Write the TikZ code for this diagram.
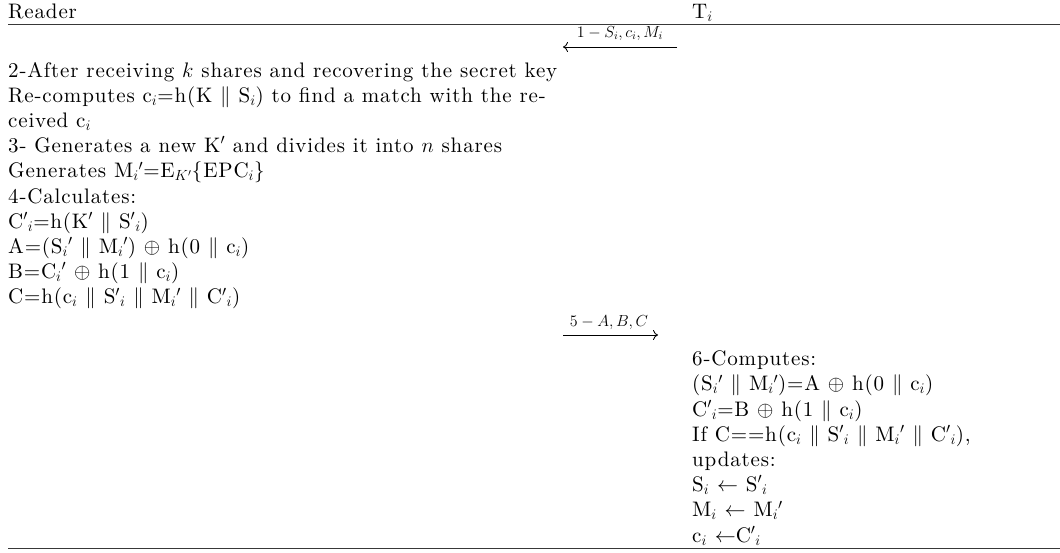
\RequirePackage{fix-cm}
\documentclass[tikz,border=0pt]{standalone}
\usepackage{fontspec}
\setmainfont{lmroman10-regular.otf}[ItalicFont=lmroman10-italic.otf, LetterSpace=4]
\usetikzlibrary{arrows.meta}
\begin{document}
\begin{tikzpicture}[x=1pt,y=-1pt,
  txt/.style={anchor=base west, inner sep=0pt, font=\fontsize{21}{25}\selectfont},
  rulel/.style={line width=1.6pt, black!78},
  msg/.style={line width=0.85pt, -{To[length=5pt,width=10pt]}},
  lbl/.style={anchor=base, inner sep=0pt, font=\fontsize{16}{18}\selectfont}]
\useasboundingbox (0,0) rectangle (1060,552);
% header
\node[txt] (hr) at (8,18) {Reader};
\node[txt] (ht) at (692,18) {T$_i$};
\draw[rulel] (8,24.5) -- (1060,24.5);
% message 1
\coordinate (m1a) at (677,47);
\coordinate (m1b) at (563,47);
\draw[msg] (m1a) -- (m1b);
\node[lbl] (m1l) at (620,37) {$1-S_i,c_i,M_i$};
% left column
\node[txt] (l1) at (8,77) {2-After receiving $k$ shares and recovering the secret key};
\node[txt] (l2) at (8,102.2) {Re-computes c$_i$=h(K $\|$ S$_i$) to find a match with the re-};
\node[txt] (l3) at (8,127.4) {ceived c$_i$};
\node[txt] (l4) at (8,152.6) {3- Generates a new K$'$ and divides it into $n$ shares};
\node[txt] (l5) at (8,177.8) {Generates M$_i{}'$=E$_{K'}$\{EPC$_i$\}};
\node[txt] (l6) at (8,203) {4-Calculates:};
\node[txt] (l7) at (8,228.2) {C$'{}_i$=h(K$'$ $\|$ S$'{}_i$)};
\node[txt] (l8) at (8,253.4) {A=(S$_i{}'$ $\|$ M$_i{}'$) $\oplus$ h(0 $\|$ c$_i$)};
\node[txt] (l9) at (8,278.6) {B=C$_i{}'$ $\oplus$ h(1 $\|$ c$_i$)};
\node[txt] (l10) at (8,303.8) {C=h(c$_i$ $\|$ S$'{}_i$ $\|$ M$_i{}'$ $\|$ C$'{}_i$)};
% message 2
\coordinate (m2a) at (563,335);
\coordinate (m2b) at (658,335);
\draw[msg] (m2a) -- (m2b);
\node[lbl] (m2l) at (609,326) {$5-A,B,C$};
% right column
\node[txt] (r1) at (692,365.6) {6-Computes:};
\node[txt] (r2) at (692,390.8) {(S$_i{}'$ $\|$ M$_i{}'$)=A $\oplus$ h(0 $\|$ c$_i$)};
\node[txt] (r3) at (692,416) {C$'{}_i$=B $\oplus$ h(1 $\|$ c$_i$)};
\node[txt] (r4) at (692,441.2) {If C==h(c$_i$ $\|$ S$'{}_i$ $\|$ M$_i{}'$ $\|$ C$'{}_i$),};
\node[txt] (r5) at (692,466.4) {updates:};
\node[txt] (r6) at (692,491.6) {S$_i$ $\leftarrow$ S$'{}_i$};
\node[txt] (r7) at (692,516.8) {M$_i$ $\leftarrow$ M$_i{}'$};
\node[txt] (r8) at (692,542) {c$_i$ $\leftarrow$C$'{}_i$};
\draw[rulel] (8,548.5) -- (1060,548.5);
\end{tikzpicture}
\end{document}
